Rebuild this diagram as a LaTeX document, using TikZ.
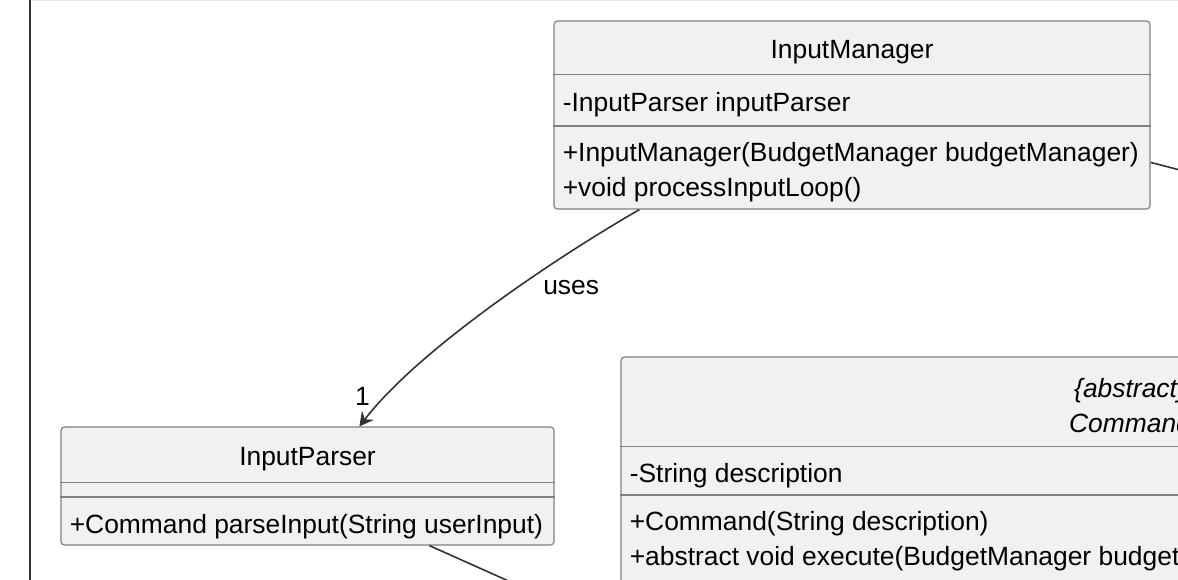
\documentclass[tikz,border=0pt]{standalone}
\usepackage{fontspec}
\setmainfont{Liberation Sans}
\usetikzlibrary{positioning,calc,arrows.meta}
\definecolor{boxfill}{HTML}{F1F1F1}
\definecolor{boxline}{HTML}{808080}
\definecolor{linkline}{HTML}{333333}
\definecolor{topline}{HTML}{E6E6E6}

\begin{document}
\begin{tikzpicture}[x=0.5bp,y=-0.5bp,>={Stealth[length=7bp,width=7.5bp,inset=2.5bp]},
    every node/.style={font={\fontsize{13.2bp}{17.5bp}\selectfont}},
    class box/.style={draw=boxline,fill=boxfill,line width=0.6bp,rounded corners=1.75bp,inner sep=0pt},
    head/.style={align=center,inner ysep=0pt,anchor=north},
    sect/.style={align=left,inner xsep=4.5bp,inner ysep=0pt,anchor=north west},
    single/.style={text height=11.5bp,text depth=0pt},
    multi/.style={text height=31.2bp},
    sep line/.style={draw=boxline,line width=0.6bp},
    link/.style={draw=linkline,line width=0.8bp},
    lbl/.style={inner sep=0pt}]

\useasboundingbox (0,0) rectangle (1178,580);
\clip (0,0) rectangle (1178,580);

% frame
\draw[topline,line width=0.5bp] (31,0.5) -- (1178,0.5);
\draw[linkline,line width=1.25bp] (30,0) -- (30,580);

% InputManager
\node[class box,minimum width=298bp,minimum height=94bp] (im) at (852,115) {};
\node[head,single,minimum height=26.5bp] (imhead) at (im.north) {InputManager};
\node[sect,single,minimum height=25.5bp] (imattr) at (imhead.south -| im.west) {-InputParser inputParser};
\node[sect,multi,minimum height=42bp] (imops) at (imattr.south -| im.west) {+InputManager(BudgetManager budgetManager)\\+void processInputLoop()};

% InputParser
\node[class box,minimum width=246.5bp,minimum height=59bp] (ip) at (307.5,486) {};
\node[head,single,minimum height=27.5bp] (iphead) at (ip.north) {InputParser};
\node[sect,minimum height=7bp] (ipattr) at (iphead.south -| ip.west) {};
\node[sect,single,minimum height=24.5bp] (ipops) at (ipattr.south -| ip.west) {+Command parseInput(String userInput)};

% Command
\node[class box,minimum width=509bp,minimum height=146.5bp] (cmd) at (1130,503.5) {};
\node[head,multi,minimum height=44.5bp,font={\fontsize{13.2bp}{17.5bp}\selectfont\itshape}] (cmdhead) at (cmd.north) {\{abstract\}\\Command};
\node[sect,single,minimum height=24bp] (cmdattr) at (cmdhead.south -| cmd.west) {-String description};
\node[sect,multi,minimum height=42bp] (cmdops) at (cmdattr.south -| cmd.west) {+Command(String description)\\+abstract void execute(BudgetManager budgetManager)};

% separators
\draw[sep line] (imattr.north west) -- (imattr.north west -| im.east);
\draw[sep line] (imops.north west) -- (imops.north west -| im.east);
\draw[sep line] (ipattr.north west) -- (ipattr.north west -| ip.east);
\draw[sep line] (ipops.north west) -- (ipops.north west -| ip.east);
\draw[sep line] (cmdattr.north west) -- (cmdattr.north west -| cmd.east);
\draw[sep line] (cmdops.north west) -- (cmdops.north west -| cmd.east);

% links
\coordinate (imexit) at (1222,181);
\coordinate (ipexit) at (551,600);

\draw[link,->] ($(im.south west)+(86,0)$) .. controls +(-80,46) and +(60,-78) .. ($(ip.north west)+(299,0)$)
    node[lbl,pos=0.34,anchor=north west,yshift=-4.5bp] {uses}
    node[lbl,pos=1,above=10bp,xshift=1.5bp] {1};
\draw[link] ($(im.north east)+(0,142)$) -- (imexit);
\draw[link] ($(ip.south west)+(369,0)$) -- (ipexit);

\end{tikzpicture}
\end{document}
